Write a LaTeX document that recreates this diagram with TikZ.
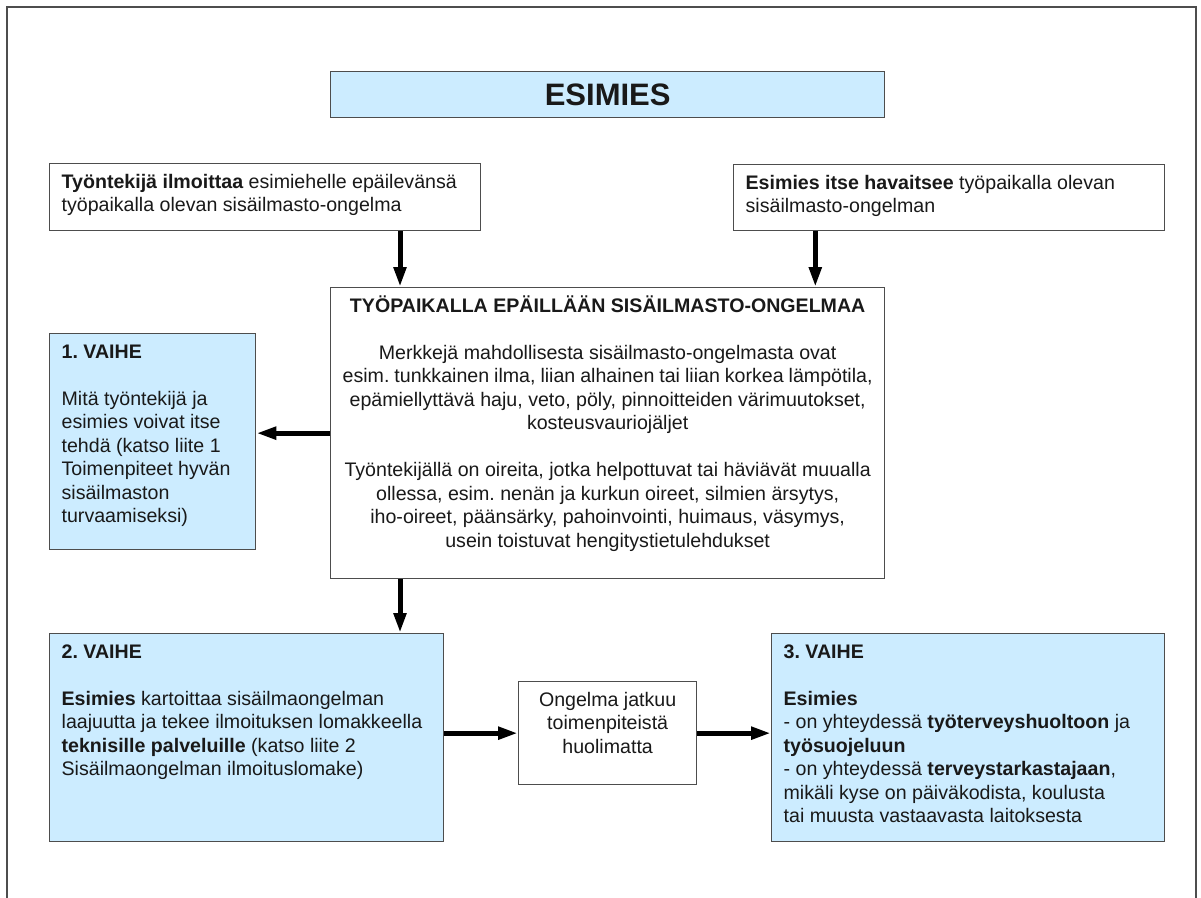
\documentclass[tikz,border=0pt]{standalone}
\usepackage{fontspec}
\setmainfont{Liberation Sans}
\usepackage{tikz}
\usetikzlibrary{calc,arrows.meta}

\definecolor{phaseblue}{RGB}{204,236,255}
\definecolor{linegray}{RGB}{77,77,77}
\definecolor{textblack}{RGB}{25,25,25}

% width, height, alignment, text
\newcommand{\boxcontent}[4]{\parbox[c][\dimexpr#2pt-16pt\relax][t]{\dimexpr#1pt-24pt\relax}{#3\strut#4}}

\begin{document}
\frenchspacing
\begin{tikzpicture}[x=1pt,y=-1pt,>={Triangle[length=20pt,width=12pt]},
  box node/.style={draw=linegray,line width=1.3pt,fill=white,anchor=north west,
  inner xsep=12pt,inner ysep=8pt,text=textblack,
  font=\fontsize{19.6}{23.5}\selectfont},
  phase node/.style={box node,fill=phaseblue},
  arrow/.style={->,line width=5pt,black}]

  \useasboundingbox (0,0) rectangle (1201,897);
  \draw[linegray,line width=1.3pt] (7,905) |- (1196,7) -- (1196,905);

  \node[phase node,minimum width=554pt,minimum height=46pt,inner sep=0pt,
    font=\fontsize{31}{36}\selectfont\bfseries] (esimies) at (330,71) {ESIMIES};

  \node[box node] (ilmoittaa) at (49,163) {\boxcontent{431}{67}{\raggedright}{%
    \textbf{Työntekijä ilmoittaa} esimiehelle epäilevänsä\\
    työpaikalla olevan sisäilmasto-ongelma}};
  \node[box node] (havaitsee) at (733,164) {\boxcontent{431}{66}{\raggedright}{%
    \textbf{Esimies itse havaitsee} työpaikalla olevan\\
    sisäilmasto-ongelman}};

  \node[box node] (tilanne) at (330,287) {\boxcontent{554}{291}{\centering}{%
    \textbf{TYÖPAIKALLA EPÄILLÄÄN SISÄILMASTO-ONGELMAA}\\[\baselineskip]
    Merkkejä mahdollisesta sisäilmasto-ongelmasta ovat\\
    esim. tunkkainen ilma, liian alhainen tai liian korkea lämpötila,\\
    epämiellyttävä haju, veto, pöly, pinnoitteiden värimuutokset,\\
    kosteusvauriojäljet\\[\baselineskip]
    Työntekijällä on oireita, jotka helpottuvat tai häviävät muualla\\
    ollessa, esim. nenän ja kurkun oireet, silmien ärsytys,\\
    iho-oireet, päänsärky, pahoinvointi, huimaus, väsymys,\\
    usein toistuvat hengitystietulehdukset}};

  \node[phase node] (vaihe1) at (49,333) {\boxcontent{206}{216}{\raggedright}{%
    \textbf{1. VAIHE}\\[\baselineskip]
    Mitä työntekijä ja\\
    esimies voivat itse\\
    tehdä (katso liite 1\\
    Toimenpiteet hyvän\\
    sisäilmaston\\
    turvaamiseksi)}};

  \node[phase node] (vaihe2) at (49,633) {\boxcontent{394}{208}{\raggedright}{%
    \textbf{2. VAIHE}\\[\baselineskip]
    \textbf{Esimies} kartoittaa sisäilmaongelman\\
    laajuutta ja tekee ilmoituksen lomakkeella\\
    \textbf{teknisille palveluille} (katso liite 2\\
    Sisäilmaongelman ilmoituslomake)}};

  \node[box node] (jatkuu) at (518,681) {\boxcontent{178}{103}{\centering}{%
    Ongelma jatkuu\\
    toimenpiteistä\\
    huolimatta}};

  \node[phase node] (vaihe3) at (771,633) {\boxcontent{393}{208}{\raggedright}{%
    \textbf{3. VAIHE}\\[\baselineskip]
    \textbf{Esimies}\\
    - on yhteydessä \textbf{työterveyshuoltoon} ja\\
    \textbf{työsuojeluun}\\
    - on yhteydessä \textbf{terveystarkastajaan},\\
    mikäli kyse on päiväkodista, koulusta\\
    tai muusta vastaavasta laitoksesta}};

  \coordinate (vasen) at ($(tilanne.north west)+(70,0)$);
  \coordinate (oikea) at ($(tilanne.north east)+(-70,0)$);

  \path[arrow]
    (ilmoittaa.south -| vasen) edge (vasen)
    (havaitsee.south -| oikea) edge (oikea)
    (tilanne.west) edge (tilanne.west -| vaihe1.east)
    (tilanne.south -| vasen) edge (vaihe2.north -| vasen)
    (vaihe2.east |- jatkuu.west) edge (jatkuu.west)
    (jatkuu.east) edge (jatkuu.east -| vaihe3.west);
\end{tikzpicture}
\end{document}
